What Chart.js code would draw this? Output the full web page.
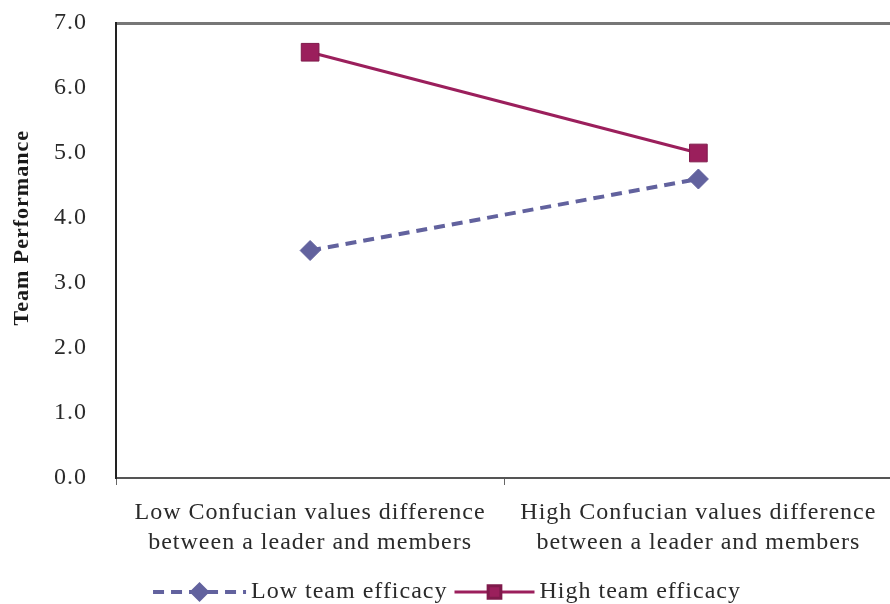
<!DOCTYPE html>
<html>
<head>
<meta charset="utf-8">
<script src="https://cdn.jsdelivr.net/npm/chart.js@4"></script>
<style>
  html, body { margin: 0; padding: 0; background: #fff; overflow: hidden; }
  #wrap { width: 906px; height: 604px; }
</style>
</head>
<body>
<div id="wrap"><canvas id="chart"></canvas></div>
<script>
// data
const categories = [
  ['Low Confucian values difference', 'between a leader and members'],
  ['High Confucian values difference', 'between a leader and members']
];
const seriesNames = ['Low team efficacy', 'High team efficacy'];
const lowEfficacy = [3.5, 4.6];
const highEfficacy = [6.55, 5.0];
const yMin = 0;
const yMax = 7;
const yStep = 1;

const lowColor = '#62629e';
const highColor = '#9b1f5c';
const textColor = '#2a2a2a';
const serif = "'Liberation Serif', 'Times New Roman', serif";
const letterGap = '1px';

// word-style wide text spacing
const spacing = {
  id: 'spacing',
  beforeUpdate(c) { c.ctx.letterSpacing = letterGap; },
  beforeLayout(c) { c.ctx.letterSpacing = letterGap; },
  beforeDraw(c) { c.ctx.letterSpacing = letterGap; }
};

// legend with line + marker swatches, drawn under the axis
const lineLegend = {
  id: 'lineLegend',
  afterDraw(c) {
    const ctx = c.ctx;
    const iconW = [93, 80];
    const gapText = 5;
    const gapItem = 7;
    ctx.save();
    ctx.letterSpacing = letterGap;
    ctx.font = '24px ' + serif;
    ctx.textBaseline = 'middle';
    const widths = c.data.datasets.map(d => ctx.measureText(d.label).width);
    let total = 0;
    widths.forEach((w, i) => { total += iconW[i] + gapText + w; });
    total += gapItem * (widths.length - 1);
    let x = (894 - total) / 2;
    const y = 592;
    c.data.datasets.forEach((d, i) => {
      ctx.save();
      ctx.strokeStyle = d.borderColor;
      ctx.lineWidth = d.borderWidth;
      ctx.setLineDash(d.borderDash || []);
      ctx.beginPath();
      ctx.moveTo(x, y);
      ctx.lineTo(x + iconW[i], y);
      ctx.stroke();
      ctx.setLineDash([]);
      ctx.fillStyle = d.pointBackgroundColor;
      ctx.strokeStyle = d.pointBorderColor;
      Chart.helpers.drawPoint(ctx, {
        pointStyle: d.pointStyle,
        radius: d.pointRadius * 0.72,
        rotation: 0,
        borderWidth: 1
      }, x + iconW[i] / 2, y);
      ctx.restore();
      ctx.fillStyle = textColor;
      ctx.fillText(d.label, x + iconW[i] + gapText, y);
      x += iconW[i] + gapText + widths[i] + gapItem;
    });
    ctx.restore();
  }
};

new Chart(document.getElementById('chart'), {
  type: 'line',
  data: {
    labels: categories,
    datasets: [
      {
        label: seriesNames[0],
        data: lowEfficacy,
        borderColor: lowColor,
        borderWidth: 4,
        borderDash: [11, 7],
        pointStyle: 'rectRot',
        pointRadius: 10,
        pointBackgroundColor: lowColor,
        pointBorderColor: lowColor,
        pointBorderWidth: 1,
        tension: 0
      },
      {
        label: seriesNames[1],
        data: highEfficacy,
        borderColor: highColor,
        borderWidth: 3,
        pointStyle: 'rect',
        pointRadius: 12.5,
        pointBackgroundColor: highColor,
        pointBorderColor: '#7f1a4b',
        pointBorderWidth: 1,
        tension: 0
      }
    ]
  },
  options: {
    responsive: true,
    maintainAspectRatio: false,
    animation: false,
    layout: { padding: { top: 23, right: 2, bottom: 33, left: 0 } },
    plugins: {
      legend: { display: false },
      tooltip: { enabled: false }
    },
    scales: {
      x: {
        offset: true,
        grid: { offset: true, drawOnChartArea: false, drawTicks: true, tickLength: 7, color: '#666' },
        border: { display: true, color: '#555', width: 2 },
        ticks: { color: textColor, padding: 13, maxRotation: 0, autoSkip: false,
          font: { family: serif, size: 24, lineHeight: 1.25 } }
      },
      x2: {
        position: 'top',
        labels: categories,
        offset: true,
        grid: { display: false, drawTicks: false },
        border: { display: true, color: '#777', width: 3 },
        ticks: { display: false },
        afterFit: s => { s.height = 0; }
      },
      y: {
        min: yMin,
        max: yMax,
        grid: { display: false, drawTicks: false },
        border: { display: true, color: '#222', width: 2 },
        ticks: { stepSize: yStep, color: textColor, padding: 29,
          font: { family: serif, size: 24 },
          callback: v => v.toFixed(1) },
        title: { display: true, text: '\u00A0\u00A0\u00A0\u00A0\u00A0\u00A0\u00A0Team Performance', color: '#1a1a1a',
          padding: { top: 9, bottom: 17 },
          font: { family: serif, size: 22, weight: 'bold' } },
        afterFit: s => { s.width = 116; s.paddingTop = 12; s.paddingBottom = 12; }
      }
    }
  },
  plugins: [spacing, lineLegend]
});
</script>
</body>
</html>
